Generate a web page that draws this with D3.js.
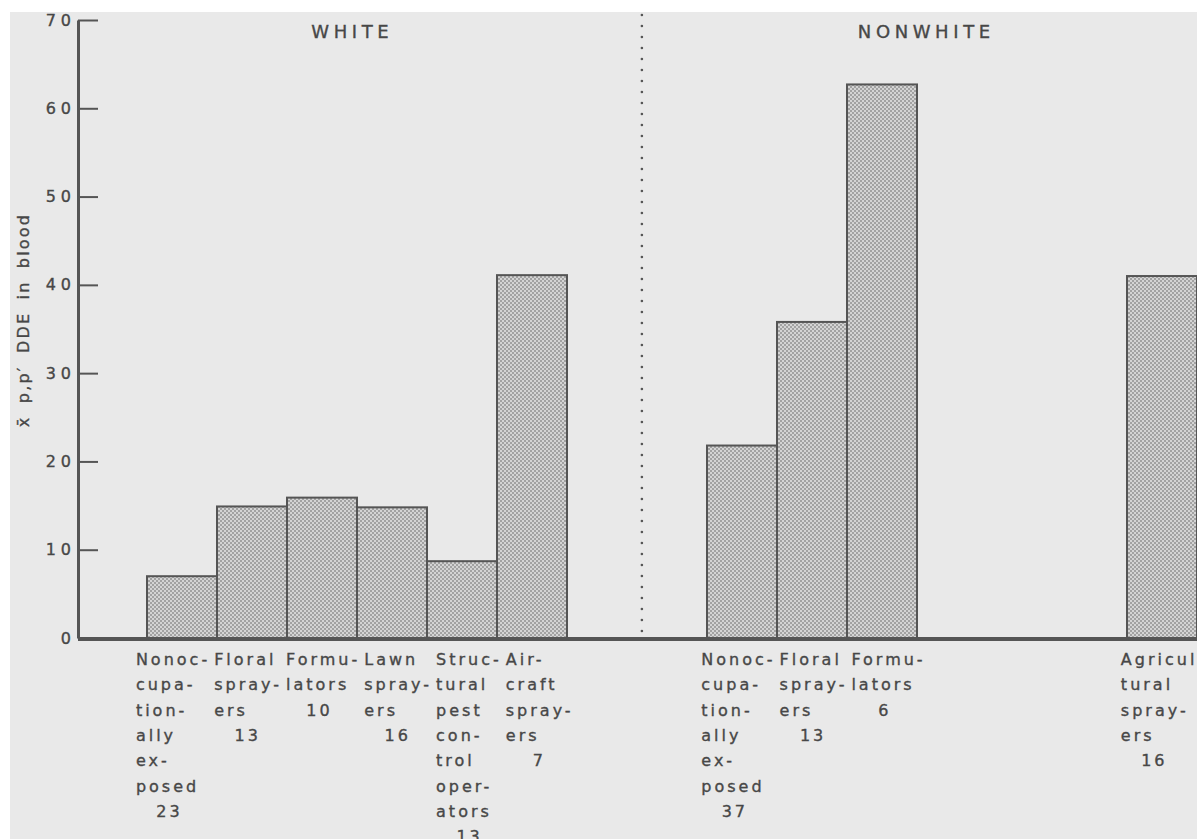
<!DOCTYPE html>
<html>
<head>
<meta charset="utf-8">
<script src="https://cdn.jsdelivr.net/npm/d3@7"></script>
<style>
  html, body { margin: 0; padding: 0; background: #ffffff; }
  svg { display: block; }
  text { font-family: "DejaVu Sans", "Noto Sans", sans-serif; fill: #474747; stroke: #474747; stroke-width: 0.35px; }
</style>
</head>
<body>
<svg id="chart" width="1197" height="839"></svg>
<script>
// ---------------- data ----------------
const groupTitles = ["WHITE", "NONWHITE"];
const categoryLines = [
  ["Nonoc-", "cupa-", "tion-", "ally", "ex-", "posed"],
  ["Floral", "spray-", "ers"],
  ["Formu-", "lators"],
  ["Lawn", "spray-", "ers"],
  ["Struc-", "tural", "pest", "con-", "trol", "oper-", "ators"],
  ["Air-", "craft", "spray-", "ers"],
  ["Nonoc-", "cupa-", "tion-", "ally", "ex-", "posed"],
  ["Floral", "spray-", "ers"],
  ["Formu-", "lators"],
  ["Agricul-", "tural", "spray-", "ers"]
];
const sampleSizes = ["23", "13", "10", "16", "13", "7", "37", "13", "6", "16"];
const meanDDE = [7.0, 14.9, 15.9, 14.8, 8.7, 41.1, 21.8, 35.8, 62.7, 41.0];
const barSlots = [0, 1, 2, 3, 4, 5, 8, 9, 10, 14];
const yTickValues = [0, 10, 20, 30, 40, 50, 60, 70];
const yTitle = "x\u0304 p,p\u2032 DDE in blood";

// ---------------- layout ----------------
const W = 1197, H = 839;
const svg = d3.select("#chart");

svg.append("rect").attr("x", 0).attr("y", 0).attr("width", W).attr("height", H).attr("fill", "#ffffff");
svg.append("rect").attr("x", 10).attr("y", 12).attr("width", W - 10).attr("height", H - 12).attr("fill", "#e9e9e9");

// halftone pattern
const defs = svg.append("defs");
const pat = defs.append("pattern").attr("id", "dots").attr("patternUnits", "userSpaceOnUse")
  .attr("width", 4).attr("height", 4);
pat.append("rect").attr("width", 4).attr("height", 4).attr("fill", "#d4d4d4");
pat.append("rect").attr("x", 0).attr("y", 0).attr("width", 2).attr("height", 2).attr("fill", "#a2a2a2");
pat.append("rect").attr("x", 2).attr("y", 2).attr("width", 2).attr("height", 2).attr("fill", "#a2a2a2");

const y = d3.scaleLinear().domain([0, 70]).range([638, 20]);
const slotW = 70;
const x = d3.scaleLinear().domain([0, 1]).range([147, 147 + slotW]);
const axisX = 78;

const data = meanDDE.map((v, i) => ({
  value: v, slot: barSlots[i], lines: categoryLines[i], n: sampleSizes[i]
}));

// bars
svg.append("g").selectAll("rect").data(data).join("rect")
  .attr("x", d => x(d.slot))
  .attr("y", d => y(d.value))
  .attr("width", d => x(d.slot + 1) - x(d.slot))
  .attr("height", d => y(0) - y(d.value))
  .attr("fill", "url(#dots)")
  .attr("stroke", "#555")
  .attr("stroke-width", 2);

// baseline
svg.append("line").attr("x1", axisX).attr("x2", W).attr("y1", y(0) + 1).attr("y2", y(0) + 1)
  .attr("stroke", "#555").attr("stroke-width", 4);

// y axis
const tickFont = 16, tickSpacing = 5;
const yAxis = d3.axisLeft(y).tickValues(yTickValues).tickSize(-20).tickSizeOuter(0).tickPadding(2);
const gy = svg.append("g").attr("transform", `translate(${axisX},0)`).call(yAxis);
gy.select(".domain").attr("stroke", "#555").attr("stroke-width", 3);
gy.selectAll(".tick line").attr("stroke", "#555").attr("stroke-width", 2);
gy.selectAll(".tick text").attr("font-size", tickFont).attr("letter-spacing", tickSpacing)
  .attr("font-family", null).attr("fill", "#474747");

// y title
svg.append("text")
  .attr("transform", `translate(29,320) rotate(-90)`)
  .attr("text-anchor", "middle")
  .attr("font-size", 16)
  .attr("letter-spacing", 2.2)
  .attr("word-spacing", 5)
  .text(yTitle);

// divider (dotted)
const dividerX = x(7.07);
svg.append("line").attr("x1", dividerX).attr("x2", dividerX).attr("y1", 15).attr("y2", 632)
  .attr("stroke", "#555").attr("stroke-width", 2.6).attr("stroke-linecap", "round")
  .attr("stroke-dasharray", "0 11");

// group titles
const titleSlots = [2.9, 11.1];
const titleSpacing = 4.6;
svg.selectAll("text.gt").data(groupTitles).join("text").attr("class", "gt")
  .attr("x", (d, i) => x(titleSlots[i]) + titleSpacing / 2)
  .attr("y", 38)
  .attr("text-anchor", "middle")
  .attr("font-size", 18)
  .attr("letter-spacing", titleSpacing)
  .text(d => d);

// category labels
const lineH = 25.3, firstBase = 665, labFont = 16, labSpacing = 3;
const blocks = [];
const lab = svg.append("g").selectAll("g").data(data).join("g");
lab.each(function (d) {
  const g = d3.select(this);
  const texts = g.selectAll("text.l").data(d.lines).join("text").attr("class", "l")
    .attr("font-size", labFont).attr("letter-spacing", labSpacing)
    .attr("y", (t, j) => firstBase + j * lineH)
    .text(t => t);
  let maxW = 0;
  texts.each(function () { maxW = Math.max(maxW, this.getComputedTextLength() - labSpacing); });
  const cx = (x(d.slot) + x(d.slot + 1)) / 2;
  blocks.push({ g, texts, d, w: maxW, left: cx - maxW / 2 });
});
// relax overlapping neighbouring blocks
const minGap = 7;
for (let it = 0; it < 40; it++) {
  for (let i = 0; i < blocks.length - 1; i++) {
    const a = blocks[i], b = blocks[i + 1];
    if (b.d.slot !== a.d.slot + 1) continue;
    const gap = b.left - (a.left + a.w);
    if (gap < minGap) {
      const s = (minGap - gap) / 2;
      a.left -= s; b.left += s;
    }
  }
}
blocks.forEach(bk => {
  bk.texts.attr("x", bk.left);
  bk.g.append("text")
    .attr("font-size", labFont).attr("letter-spacing", labSpacing)
    .attr("x", bk.left + 32 + labSpacing / 2).attr("text-anchor", "middle")
    .attr("y", firstBase + bk.d.lines.length * lineH)
    .text(bk.d.n);
});
</script>
</body>
</html>
